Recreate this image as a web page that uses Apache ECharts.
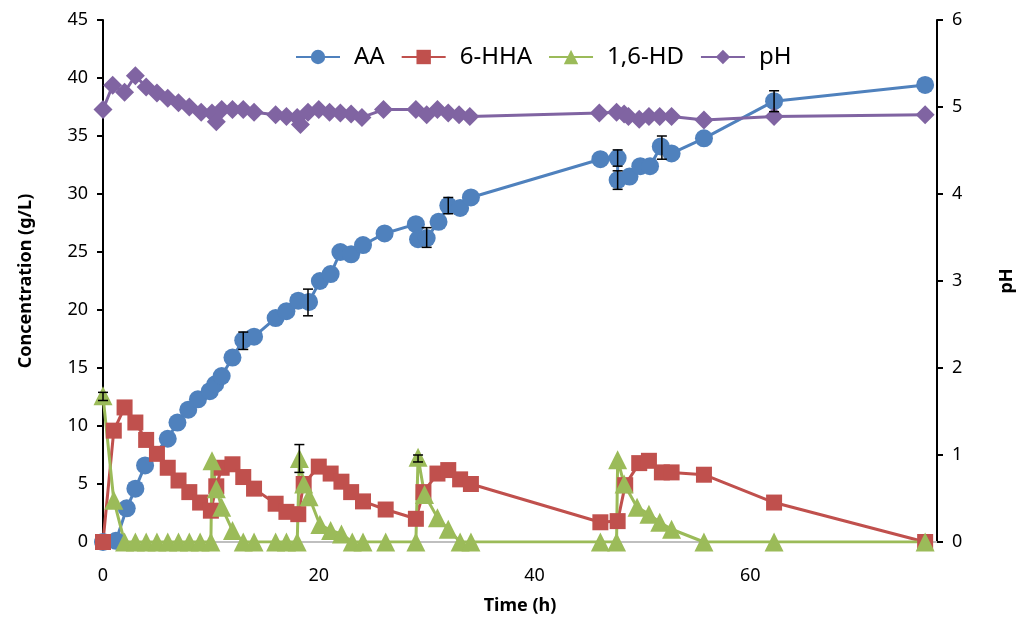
<!DOCTYPE html>
<html>
<head>
<meta charset="utf-8">
<script src="https://cdn.jsdelivr.net/npm/echarts@6/dist/echarts.min.js"></script>
<style>
  html, body { margin: 0; padding: 0; background: #fff; }
  #chart { width: 1024px; height: 620px; }
</style>
</head>
<body>
<div id="chart"></div>
<script>
// [time (h), value]
var aa = [[0, 0], [1.2, 0.1], [2.2, 2.9], [3.0, 4.6], [3.9, 6.6], [6.0, 8.9], [6.9, 10.3], [7.9, 11.4],
  [8.8, 12.3], [9.9, 13.0], [10.4, 13.6], [11.0, 14.3], [12.0, 15.9], [13.0, 17.4], [14.0, 17.7],
  [16.0, 19.3], [17.0, 19.9], [18.1, 20.8], [19.1, 20.7], [20.1, 22.5], [21.1, 23.1], [22.0, 25.0],
  [23.0, 24.8], [24.1, 25.6], [26.1, 26.6], [29.0, 27.4], [29.2, 26.1], [30.0, 26.2], [31.1, 27.6],
  [32.0, 29.0], [33.1, 28.8], [34.1, 29.7], [46.1, 33.0], [47.7, 33.1], [47.7, 31.2], [48.8, 31.5],
  [49.8, 32.4], [50.7, 32.4], [51.7, 34.1], [52.7, 33.5], [55.7, 34.8], [62.2, 38.0], [76.2, 39.4]];

var hha = [[0, 0], [1.0, 9.6], [2.0, 11.6], [3.0, 10.3], [4.0, 8.8], [5.0, 7.6], [6.0, 6.4], [7.0, 5.3],
  [8.0, 4.3], [9.0, 3.4], [10.0, 2.7], [10.5, 4.8], [11.0, 6.4], [12.0, 6.7], [13.0, 5.6], [14.0, 4.6],
  [16.0, 3.3], [17.0, 2.6], [18.1, 2.4], [18.6, 5.0], [20.0, 6.5], [21.1, 5.9], [22.1, 5.2], [23.0, 4.3],
  [24.1, 3.5], [26.2, 2.8], [29.0, 2.0], [29.7, 4.3], [31.0, 5.9], [32.0, 6.2], [33.1, 5.4], [34.1, 5.0],
  [46.1, 1.7], [47.7, 1.8], [48.4, 4.9], [49.7, 6.8], [50.6, 7.0], [51.8, 6.0], [52.7, 6.0], [55.7, 5.8],
  [62.2, 3.4], [76.2, 0]];

var hd = [[0, 12.6], [1.0, 3.6], [2, 0], [3, 0], [4, 0], [5, 0], [6, 0], [7, 0], [8, 0], [9, 0], [10, 0],
  [10.1, 7.0], [10.5, 4.6], [11.0, 3.0], [12.0, 1.0], [13.0, 0], [14.0, 0], [16, 0], [17, 0], [18, 0],
  [18.2, 7.2], [18.6, 5.0], [19.1, 3.9], [20.1, 1.5], [21.1, 1.0], [22.1, 0.7], [23.1, 0], [24.1, 0],
  [26.2, 0], [29.0, 0], [29.2, 7.3], [29.8, 4.1], [31.0, 2.1], [32.0, 1.1], [33.1, 0], [34.1, 0],
  [46.1, 0], [47.6, 0], [47.7, 7.1], [48.3, 5.0], [49.5, 3.0], [50.6, 2.4], [51.6, 1.7], [52.7, 1.1],
  [55.7, 0], [62.2, 0], [76.2, 0]];

var ph = [[0, 4.97], [0.9, 5.25], [2.0, 5.17], [3.0, 5.36], [4.0, 5.23], [5.0, 5.16], [6.0, 5.10],
  [7.0, 5.05], [8.0, 5.00], [9.1, 4.94], [10.1, 4.93], [10.5, 4.83], [11.0, 4.97], [12.0, 4.97],
  [13.0, 4.97], [14.0, 4.94], [16.0, 4.91], [17.0, 4.89], [18.0, 4.88], [18.3, 4.80], [19.0, 4.94],
  [20.0, 4.97], [21.0, 4.94], [22.0, 4.93], [23.0, 4.92], [24.0, 4.88], [26.0, 4.97], [29.0, 4.97],
  [30.0, 4.91], [31.0, 4.97], [32.0, 4.93], [33.0, 4.91], [34.0, 4.89], [46.0, 4.93], [47.6, 4.94],
  [48.3, 4.92], [48.7, 4.89], [49.7, 4.86], [50.6, 4.89], [51.6, 4.89], [52.7, 4.89], [55.7, 4.85],
  [62.2, 4.89], [76.2, 4.91]];

// error bars: [time, low, high]
var errBars = [[13.0, 16.6, 18.1], [19.0, 19.5, 21.8], [30.0, 25.4, 27.1], [32.0, 28.3, 29.7],
  [47.7, 32.4, 33.8], [47.7, 30.4, 32.0], [51.8, 33.0, 35.0], [62.2, 37.1, 38.9],
  [18.2, 6.0, 8.4], [29.2, 6.9, 7.5], [0, 12.2, 12.9]];

var xTicks = [0, 20, 40, 60];

var FONT = '"Noto Sans", "Open Sans", sans-serif';

var chart = echarts.init(document.getElementById('chart'));

function lineSeries(name, data, color, symbol, size, yIndex) {
    return {
        name: name,
        type: 'line',
        yAxisIndex: yIndex,
        data: data,
        symbol: symbol,
        symbolSize: size,
        showAllSymbol: true,
        lineStyle: {color: color, width: 3},
        itemStyle: {color: color},
        emphasis: {disabled: true},
        animation: false
    };
}

var option = {
    backgroundColor: '#fff',
    textStyle: {fontFamily: FONT},
    grid: {left: 103, right: 82, top: 20, bottom: 77},
    legend: {
        data: ['AA', '6-HHA', '1,6-HD', 'pH'],
        top: 40,
        left: 290,
        itemWidth: 44,
        itemHeight: 18,
        itemGap: 16,
        textStyle: {fontSize: 24, color: '#000', fontFamily: FONT, padding: [0, 0, 0, 9]}
    },
    xAxis: {
        type: 'value',
        min: 0,
        max: 77.3,
        interval: 20,
        name: 'Time (h)',
        nameLocation: 'middle',
        nameGap: 55,
        nameTextStyle: {fontSize: 18, fontWeight: 'bold', color: '#000'},
        axisLine: {lineStyle: {color: '#BFBFBF', width: 2}},
        axisTick: {show: false},
        splitLine: {show: false},
        axisLabel: {
            fontSize: 18, color: '#000', margin: 25, showMaxLabel: false,
            formatter: function (v) { return xTicks.indexOf(v) >= 0 ? String(v) : ''; }
        }
    },
    yAxis: [{
        type: 'value',
        min: 0,
        max: 45,
        interval: 5,
        name: 'Concentration (g/L)',
        nameLocation: 'middle',
        nameGap: 68,
        nameTextStyle: {fontSize: 18, fontWeight: 'bold', color: '#000'},
        axisLine: {show: true, lineStyle: {color: '#000', width: 2}},
        axisTick: {show: true, length: 6, lineStyle: {color: '#000', width: 2}},
        splitLine: {show: false},
        axisLabel: {fontSize: 18, color: '#000', margin: 15}
    }, {
        type: 'value',
        position: 'right',
        min: 0,
        max: 6,
        interval: 1,
        name: 'pH',
        nameLocation: 'middle',
        nameGap: 61,
        nameTextStyle: {fontSize: 18, fontWeight: 'bold', color: '#000'},
        axisLine: {show: true, lineStyle: {color: '#000', width: 2}},
        axisTick: {show: true, length: 6, lineStyle: {color: '#000', width: 2}},
        splitLine: {show: false},
        axisLabel: {fontSize: 18, color: '#000', margin: 15}
    }],
    series: [
        lineSeries('AA', aa, '#4F81BD', 'circle', 18, 0),
        lineSeries('6-HHA', hha, '#C0504D', 'rect', 16, 0),
        lineSeries('1,6-HD', hd, '#9BBB59', 'triangle', 19, 0),
        lineSeries('pH', ph, '#8064A2', 'diamond', 19, 1),
        {
            name: 'err',
            type: 'custom',
            yAxisIndex: 0,
            z: 5,
            silent: true,
            animation: false,
            data: errBars,
            encode: {x: 0, y: [1, 2]},
            renderItem: function (params, api) {
                var lo = api.coord([api.value(0), api.value(1)]);
                var hi = api.coord([api.value(0), api.value(2)]);
                var w = 5;
                var st = {stroke: '#000', lineWidth: 1.5};
                return {
                    type: 'group',
                    children: [
                        {type: 'line', shape: {x1: lo[0], y1: lo[1], x2: hi[0], y2: hi[1]}, style: st},
                        {type: 'line', shape: {x1: lo[0] - w, y1: lo[1], x2: lo[0] + w, y2: lo[1]}, style: st},
                        {type: 'line', shape: {x1: hi[0] - w, y1: hi[1], x2: hi[0] + w, y2: hi[1]}, style: st}
                    ]
                };
            }
        }
    ]
};

chart.setOption(option);
</script>
</body>
</html>
